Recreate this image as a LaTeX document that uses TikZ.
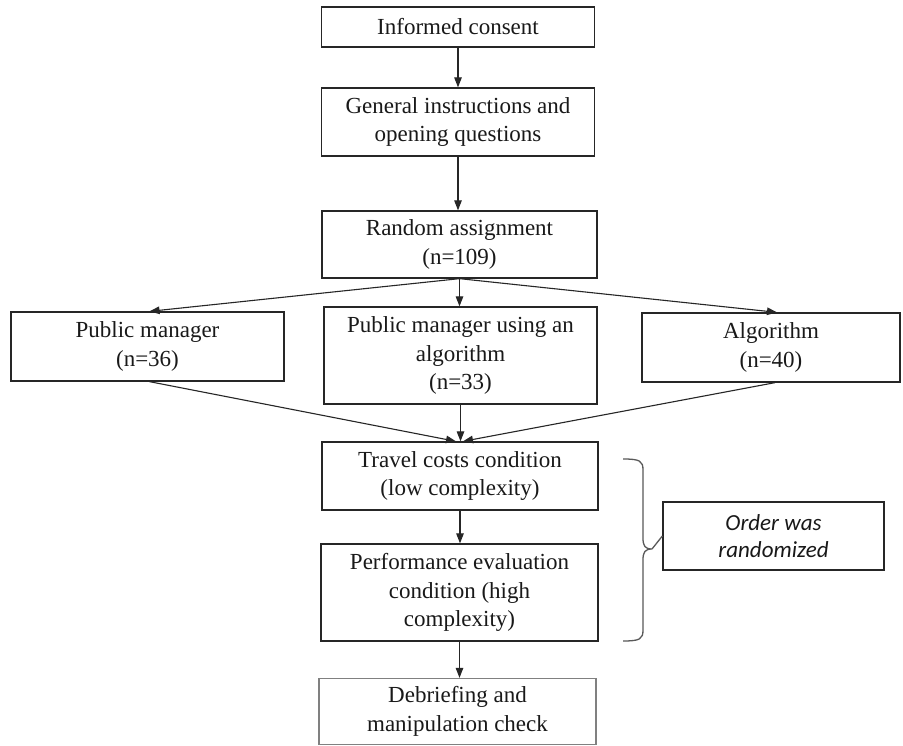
\documentclass[tikz,border=0pt]{standalone}
\usepackage{fontspec}
\setmainfont{Liberation Serif}
\newfontfamily\calibfont{Carlito}
\usetikzlibrary{arrows.meta}
\begin{document}
\begin{tikzpicture}[x=1pt,y=-1pt,
  box/.style={draw=black!85, line width=1.3pt, align=center, inner sep=0pt,
    font=\fontsize{23}{28.5}\selectfont, text=black!90},
  arr/.style={-{Triangle[length=10pt,width=7.5pt]}, line width=1.1pt, draw=black!85},
  bracestyle/.style={draw=black!65, line width=1.3pt}]
\useasboundingbox[fill=white] (0,0) rectangle (903,746);

\node[box, minimum width=273pt, minimum height=40pt] (consent) at (458,27) {Informed consent};
\node[box, minimum width=273pt, minimum height=68pt] (general) at (458,122) {General instructions and\\opening questions};
\node[box, minimum width=275pt, minimum height=67pt] (random) at (459.5,244.5) {Random assignment\\(n=109)};
\node[box, minimum width=273pt, minimum height=69pt] (pm) at (147.5,346.5) {Public manager\\(n=36)};
\node[box, minimum width=273pt, minimum height=97pt] (pmalg) at (460.5,355.5) {Public manager using an\\algorithm\\(n=33)};
\node[box, minimum width=258pt, minimum height=69pt] (alg) at (771,347.5) {Algorithm\\(n=40)};
\node[box, minimum width=276pt, minimum height=68pt] (travel) at (460,476) {Travel costs condition\\(low complexity)};
\node[box, minimum width=277pt, minimum height=97pt] (perf) at (459.5,592.5) {Performance evaluation\\condition (high\\complexity)};
\node[box, draw=black!50, minimum width=277pt, minimum height=66pt] (debrief) at (457.5,711.5) {Debriefing and\\manipulation check};
\node[box, minimum width=221pt, minimum height=68pt, font=\calibfont\itshape\fontsize{23}{27}\selectfont] (order) at (773.5,536) {Order was\\randomized};

\draw[arr] (consent.south) -- (general.north);
\draw[arr] (general.south) -- (general.south |- random.north);
\draw[arr] (random.south) -- ([xshift=2pt]pm.north);
\draw[arr] (random.south) -- (random.south |- pmalg.north);
\draw[arr] (random.south) -- ([xshift=6pt]alg.north);
\draw[arr] ([xshift=2pt]pm.south) -- ([xshift=-4pt]travel.north);
\draw[arr] (pmalg.south) -- (pmalg.south |- travel.north);
\draw[arr] ([xshift=4pt]alg.south) -- ([xshift=3pt]travel.north);
\draw[arr] (travel.south) -- (travel.south |- perf.north);
\draw[arr] (perf.south) -- (perf.south |- debrief.north);

\coordinate (btop) at (623,459);
\coordinate (bbot) at (623,641);
\draw[bracestyle] (btop) .. controls (640,459) and (643,461) .. (643,470)
  -- (643,538) .. controls (643,546) and (645,549) .. (652,549)
  .. controls (645,549) and (643,552) .. (643,560)
  -- (643,630) .. controls (643,639) and (640,641) .. (bbot);
\draw[bracestyle] (652,549) -- (order.west);
\end{tikzpicture}
\end{document}
